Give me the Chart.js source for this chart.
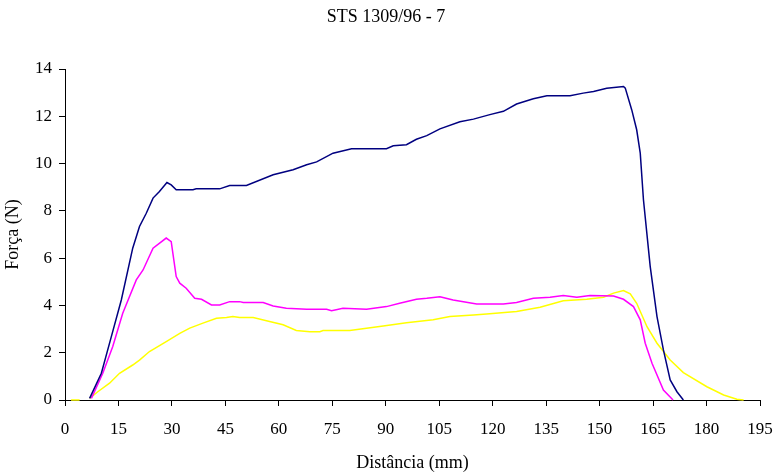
<!DOCTYPE html>
<html>
<head>
<meta charset="utf-8">
<script src="https://cdn.jsdelivr.net/npm/chart.js@4"></script>
<style>
  html, body { margin: 0; padding: 0; background: #fff; }
  #wrap { width: 776px; height: 474px; }
</style>
</head>
<body>
<div id="wrap"><canvas id="forca-chart" width="776" height="474"></canvas></div>
<script>
let chartTitle = "STS 1309/96 - 7";
let xTitle = "Distância (mm)";
let yTitle = "Força (N)";

// serie 1 (azul)
let navyX = [6.9, 10.2, 13.0, 15.8, 19.0, 20.9, 22.8, 24.7, 26.5, 28.6, 29.8, 31.2, 35.9, 36.8, 43.4, 46.2, 50.9, 58.4, 64.0, 67.8, 70.6, 75.2, 80.4, 90.2, 92.1, 95.8, 98.6, 101.5, 105.2, 110.8, 114.6, 119.2, 123.0, 126.7, 131.4, 135.2, 141.7, 145.4, 148.3, 152.0, 156.7, 157.2, 159.0, 160.4, 161.4, 162.3, 164.2, 166.1, 167.9, 169.8, 171.7, 173.5];
let navyY = [0.07, 1.13, 2.68, 4.23, 6.42, 7.34, 7.9, 8.54, 8.82, 9.2, 9.1, 8.89, 8.89, 8.93, 8.93, 9.07, 9.07, 9.53, 9.74, 9.95, 10.07, 10.44, 10.63, 10.63, 10.75, 10.8, 11.03, 11.18, 11.47, 11.77, 11.88, 12.07, 12.21, 12.52, 12.74, 12.87, 12.87, 12.98, 13.05, 13.19, 13.26, 13.19, 12.28, 11.43, 10.44, 8.47, 5.64, 3.53, 2.12, 0.85, 0.35, 0];

// serie 2 (magenta)
let magentaX = [7.4, 10.6, 13.4, 16.2, 20.0, 21.9, 24.7, 28.4, 29.8, 31.2, 32.2, 34.0, 36.4, 38.3, 41.1, 43.4, 46.2, 49.0, 50.0, 55.6, 58.4, 62.1, 67.8, 73.4, 74.8, 78.0, 84.6, 90.2, 93.9, 98.6, 101.5, 105.2, 108.9, 115.5, 123.0, 126.7, 131.4, 136.1, 139.8, 143.6, 147.3, 153.9, 156.7, 159.5, 161.4, 162.8, 164.7, 167.9, 170.6];
let magentaY = [0.07, 1.13, 2.26, 3.67, 5.08, 5.5, 6.42, 6.85, 6.7, 5.22, 4.94, 4.73, 4.3, 4.26, 4.02, 4.02, 4.16, 4.16, 4.12, 4.12, 3.98, 3.88, 3.84, 3.84, 3.78, 3.88, 3.84, 3.95, 4.09, 4.26, 4.3, 4.37, 4.23, 4.06, 4.06, 4.12, 4.3, 4.35, 4.42, 4.35, 4.42, 4.4, 4.26, 3.95, 3.39, 2.4, 1.55, 0.42, 0];

// serie 3 (amarelo)
let yellowX = [1.7, 4.1, 5.5, 6.9, 9.2, 12.5, 15.3, 19.0, 20.9, 23.7, 28.4, 32.2, 35.0, 38.7, 42.5, 45.3, 47.1, 49.0, 52.8, 57.4, 61.2, 64.9, 68.7, 71.5, 72.4, 79.9, 89.3, 95.8, 103.3, 108.0, 114.6, 118.3, 126.7, 133.3, 139.8, 146.4, 151.1, 153.9, 156.7, 158.6, 160.4, 163.3, 166.1, 169.8, 173.5, 180.1, 184.8, 188.5, 190.4];
let yellowY = [0, 0, null, 0.07, 0.35, 0.71, 1.13, 1.48, 1.69, 2.05, 2.47, 2.82, 3.04, 3.25, 3.46, 3.49, 3.53, 3.49, 3.49, 3.32, 3.18, 2.94, 2.89, 2.89, 2.94, 2.94, 3.13, 3.27, 3.39, 3.53, 3.6, 3.64, 3.74, 3.92, 4.2, 4.26, 4.35, 4.52, 4.63, 4.49, 4.09, 3.1, 2.4, 1.69, 1.16, 0.56, 0.21, 0.03, 0];

function toPoints(xs, ys) {
  return xs.map((x, i) => ({ x: x, y: ys[i] }));
}

const serif = "'Liberation Serif', 'Times New Roman', serif";

const CanvasChart = document.getElementById("forca-chart");

new Chart(CanvasChart, {
  type: "line",
  data: {
    datasets: [
      {
        data: toPoints(navyX, navyY),
        borderColor: "#000080",
        borderWidth: 1.5,
        pointRadius: 0,
        tension: 0,
        clip: false,
      },
      {
        data: toPoints(magentaX, magentaY),
        borderColor: "#ff00ff",
        borderWidth: 1.5,
        pointRadius: 0,
        tension: 0,
        clip: false,
      },
      {
        data: toPoints(yellowX, yellowY),
        borderColor: "#ffff00",
        borderWidth: 1.5,
        pointRadius: 0,
        tension: 0,
        spanGaps: false,
        clip: false,
      },
    ],
  },
  options: {
    responsive: false,
    animation: false,
    layout: {
      padding: { left: 12, right: 16, top: 0, bottom: 0 },
    },
    plugins: {
      legend: { display: false },
      tooltip: { enabled: false },
      title: {
        display: true,
        text: chartTitle,
        color: "#000",
        font: { family: serif, size: 18, weight: "normal" },
        padding: { top: 6, bottom: 41.4 },
      },
    },
    scales: {
      x: {
        type: "linear",
        min: 0,
        max: 195,
        afterFit: (s) => {
          s.height = 74;
          s.paddingLeft = 0;
          s.paddingRight = 0;
        },
        border: { color: "#000", width: 1 },
        grid: {
          display: true,
          drawOnChartArea: false,
          tickLength: 6,
          color: "#000",
        },
        ticks: {
          stepSize: 15,
          color: "#000",
          padding: 13,
          maxRotation: 0,
          font: { family: serif, size: 17 },
        },
        title: {
          display: true,
          text: xTitle,
          color: "#000",
          font: { family: serif, size: 18 },
          padding: { top: 0, bottom: 0 },
        },
      },
      y: {
        min: 0,
        max: 14,
        afterFit: (s) => { s.width = 53; },
        border: { color: "#000", width: 1 },
        grid: {
          display: true,
          drawOnChartArea: false,
          tickLength: 6,
          color: "#000",
        },
        ticks: {
          stepSize: 2,
          color: "#000",
          padding: 7,
          font: { family: serif, size: 17 },
        },
        title: {
          display: true,
          text: yTitle,
          color: "#000",
          font: { family: serif, size: 18 },
          padding: { top: -10, bottom: 0 },
        },
      },
    },
  },
});
</script>
</body>
</html>
